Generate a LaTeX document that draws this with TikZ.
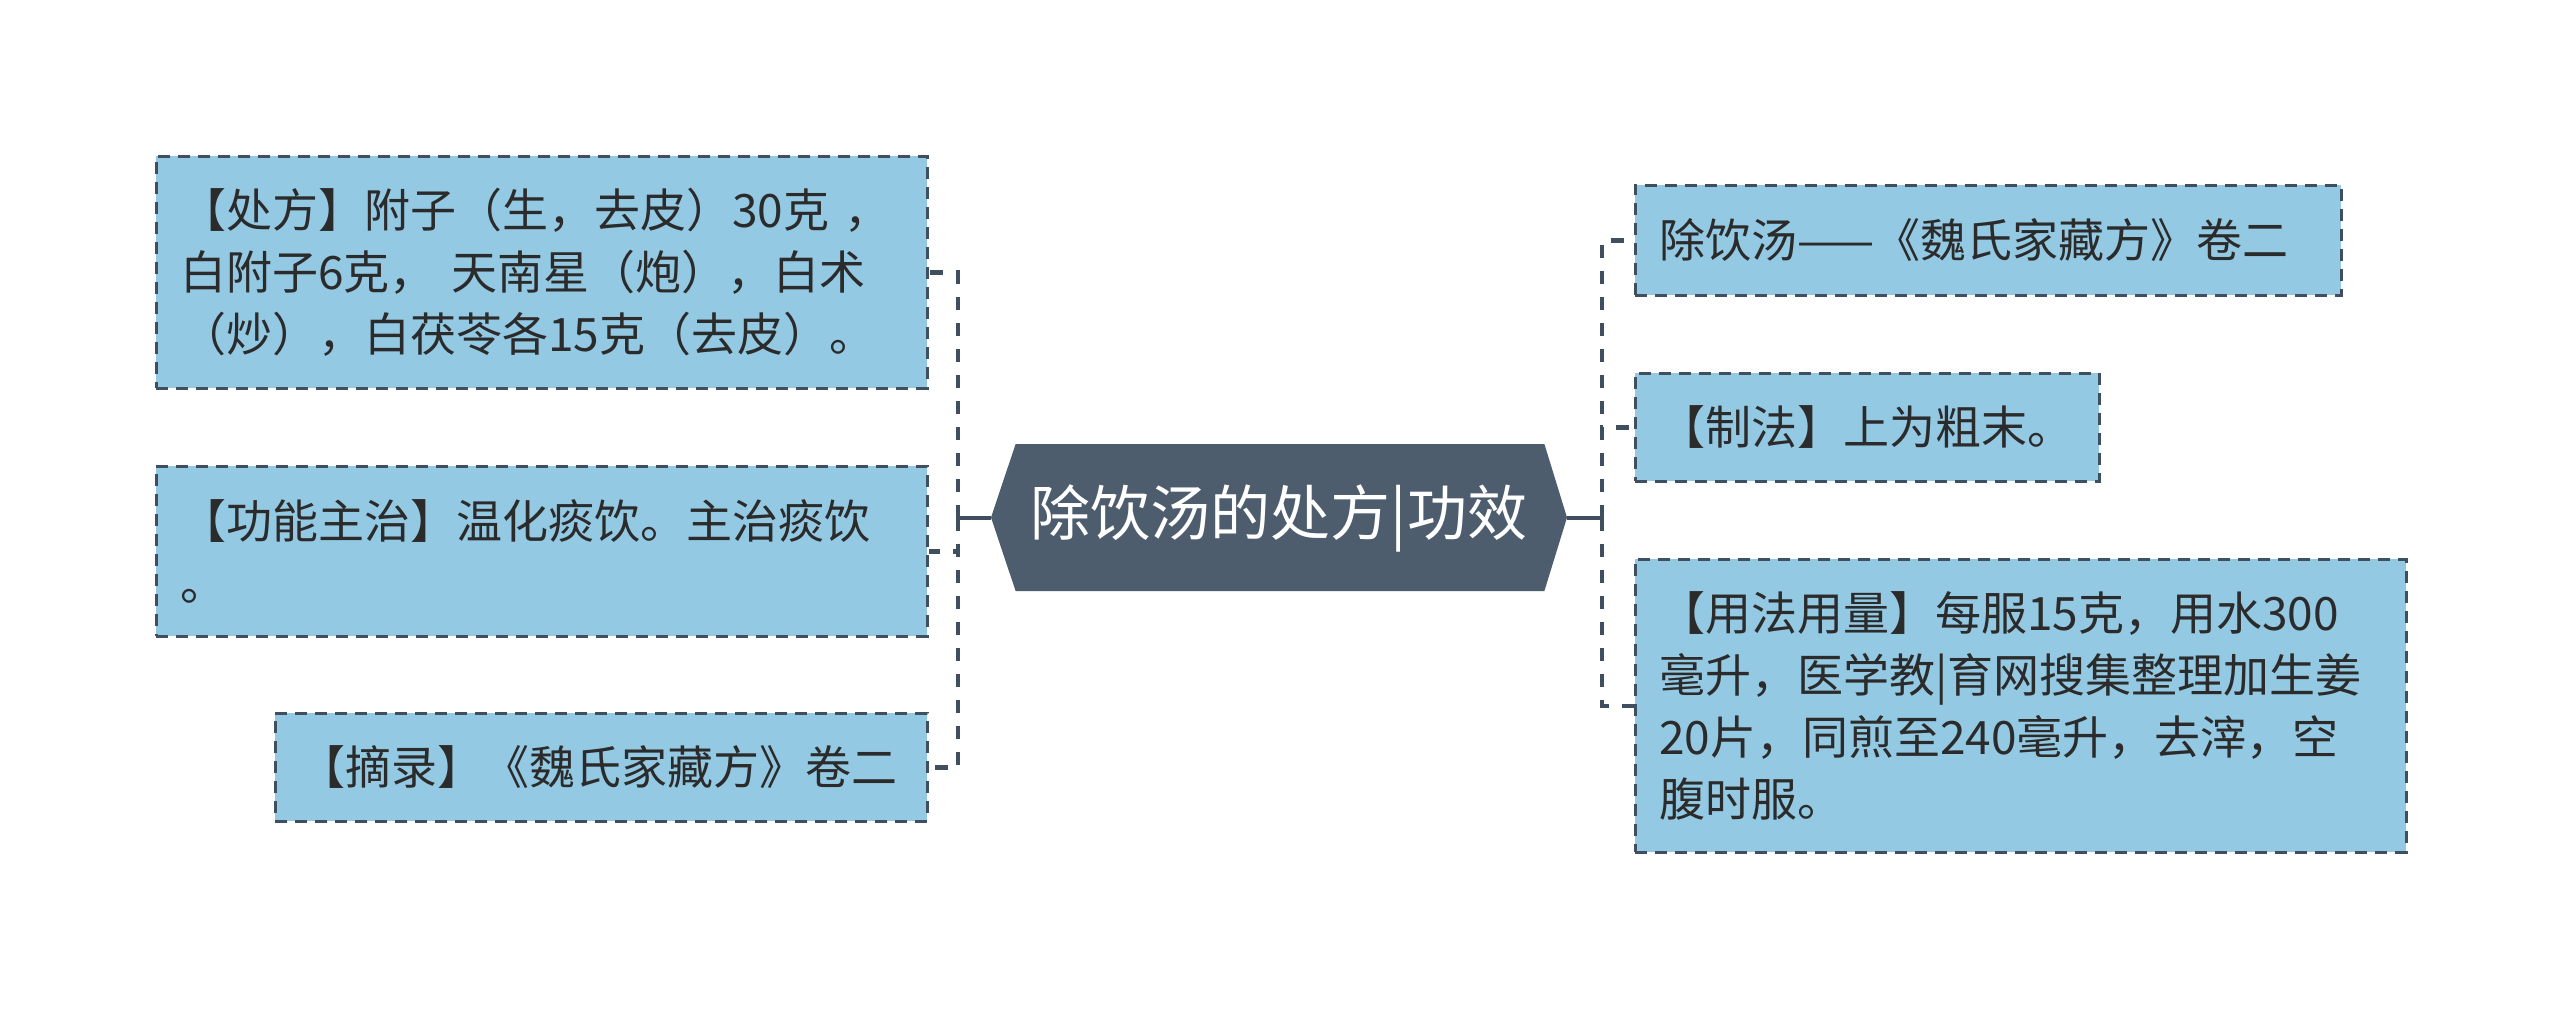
\documentclass[tikz,border=0pt]{standalone}
\usepackage{fontspec}
\newfontfamily\cjk{Noto Sans CJK SC}
\definecolor{boxfill}{HTML}{94C9E3}
\definecolor{linec}{HTML}{3F4F5F}
\definecolor{rootfill}{HTML}{4D5D6D}
\definecolor{txt}{HTML}{2B2B2B}
\begin{document}
\begin{tikzpicture}[x=1pt,y=-1pt,
  box/.style={draw=linec, line width=1.3pt, dash pattern=on 6pt off 4pt, fill=boxfill,
    font=\cjk\fontsize{23}{31}\selectfont, text=txt, align=left,
    inner xsep=12pt, inner ysep=0pt, anchor=north west},
  conn/.style={draw=linec, line width=2.2pt, dash pattern=on 6.5pt off 6.5pt},
  solidc/.style={draw=linec, line width=2pt},
  rootlabel/.style={font=\cjk\fontsize{30}{36}\selectfont, text=white, inner sep=0pt}
]
\path[use as bounding box] (0,0) rectangle (1280,504);

% left boxes
\node[box, minimum width=385.5pt, minimum height=116pt, text width=361.5pt] (l1) at (77.5,77.5)
  {【处方】附子（生，去皮）30克~，\\白附子6克，~天南星（炮），白术\\（炒），白茯苓各15克（去皮）。};
\node[box, minimum width=385.5pt, minimum height=85pt, text width=361.5pt] (l2) at (77.5,232.5)
  {【功能主治】温化痰饮。主治痰饮\\。};
\node[box, minimum width=326pt, minimum height=54pt, text width=302pt] (l3) at (137,356)
  {【摘录】《魏氏家藏方》卷二};

% right boxes
\node[box, minimum width=353pt, minimum height=55pt, text width=329pt] (r1) at (817,92)
  {除饮汤——《魏氏家藏方》卷二};
\node[box, minimum width=232pt, minimum height=54pt, text width=208pt] (r2) at (817,186)
  {【制法】上为粗末。};
\node[box, minimum width=385.5pt, minimum height=146.5pt, text width=361.5pt] (r3) at (817,279)
  {【用法用量】每服15克，用水300\\毫升，医学教|育网搜集整理加生姜\\20片，同煎至240毫升，去滓，空\\腹时服。};

% root
\fill[rootfill] (495.5,258.75) -- (507.8,222) -- (772.2,222) -- (783.5,258.75)
  -- (772.2,295.5) -- (507.8,295.5) -- cycle;
\node[rootlabel] (root) at (639.5,259) {除饮汤的处方|功效};
\coordinate (rootL) at (495.5,258.75);
\coordinate (rootR) at (783.5,258.75);
\coordinate (jl) at (479,258.75);
\coordinate (jr) at (801,258.75);

% connectors
\draw[solidc] (rootL) -- (jl);
\draw[solidc] (rootR) -- (jr);
\draw[conn] (jl) |- (l1.east);
\draw[conn] (jl) |- (l2.east);
\draw[conn] (jl) |- (l3.east);
\draw[conn] (jr) |- (r1.west);
\draw[conn] (jr) |- (r2.west);
\draw[conn] (jr) |- (r3.west);
\end{tikzpicture}
\end{document}
